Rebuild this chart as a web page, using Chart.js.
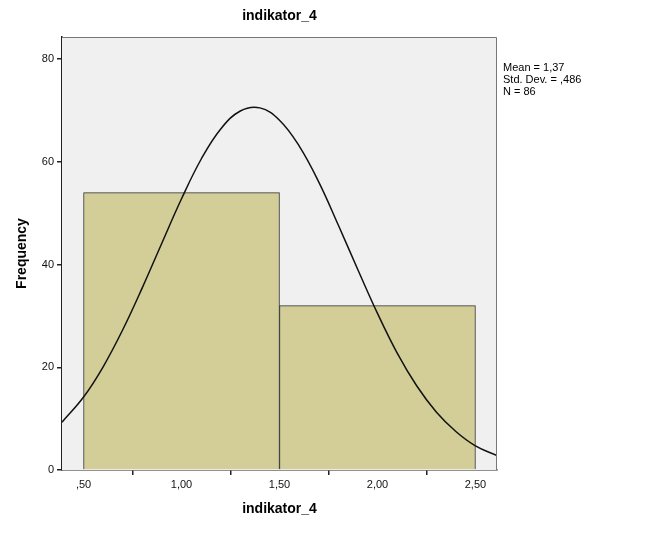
<!DOCTYPE html>
<html>
<head>
<meta charset="utf-8">
<script src="https://cdn.jsdelivr.net/npm/chart.js@4.4.1/dist/chart.umd.min.js"></script>
<style>
  body { margin: 0; background: #fff; }
</style>
</head>
<body>
<canvas id="hist" width="665" height="533"></canvas>
<script>
// histogram bins (centres) and counts
var binCenters = [1, 2];
var binCounts = [54, 32];

// normal curve
var curveX = [0.39, 0.5, 0.6, 0.7, 0.8, 0.9, 1.0, 1.1, 1.2, 1.3, 1.4, 1.5, 1.6, 1.7, 1.8, 1.9, 2.0, 2.1, 2.2, 2.3, 2.4, 2.5, 2.61];
var curveY = [9.3, 14.2, 20.1, 27.3, 35.5, 44.2, 52.8, 60.5, 66.4, 69.9, 70.5, 68.1, 63.1, 56.1, 47.7, 39.0, 30.5, 22.8, 16.4, 11.3, 7.5, 4.7, 2.8];

var xTickVals = [0.5, 1.0, 1.5, 2.0, 2.5];
var xTickLabels = [",50", "1,00", "1,50", "2,00", "2,50"];
var yTickVals = [0, 20, 40, 60, 80];

var statsLines = ["Mean = 1,37", "Std. Dev. = ,486", "N = 86"];

var FONT = "'Liberation Sans', Arial, sans-serif";

// grey plot background + frame, stats text on the right
const plotBox = {
  id: 'plotBox',
  beforeDatasetsDraw(chart) {
    const a = chart.chartArea, ctx = chart.ctx;
    ctx.save();
    ctx.fillStyle = '#f0f0f0';
    ctx.fillRect(a.left, a.top, a.right - a.left, a.bottom - a.top);
    ctx.restore();
  },
  afterDraw(chart) {
    const a = chart.chartArea, ctx = chart.ctx;
    ctx.save();
    ctx.strokeStyle = '#777';
    ctx.lineWidth = 1;
    ctx.beginPath();
    ctx.moveTo(a.left, a.top + 0.5);
    ctx.lineTo(a.right - 0.5, a.top + 0.5);
    ctx.lineTo(a.right - 0.5, a.bottom);
    ctx.stroke();
    ctx.fillStyle = '#000';
    ctx.font = '11px ' + FONT;
    ctx.textBaseline = 'middle';
    statsLines.forEach(function (t, i) {
      ctx.fillText(t, a.right + 6, 68 + i * 12);
    });
    ctx.restore();
  }
};

new Chart("hist", {
  type: "bar",
  data: {
    datasets: [{
      type: "line",
      data: curveX.map((x, i) => ({x: x, y: curveY[i]})),
      borderColor: "#111",
      borderWidth: 1.5,
      pointRadius: 0,
      tension: 0.4,
      fill: false,
      order: 0
    }, {
      type: "bar",
      data: binCenters.map((x, i) => ({x: x, y: binCounts[i]})),
      backgroundColor: "#d3ce98",
      borderColor: "#333",
      borderWidth: 1,
      barThickness: "flex",
      barPercentage: 1,
      categoryPercentage: 1,
      order: 1
    }]
  },
  options: {
    responsive: false,
    animation: false,
    layout: { padding: { left: 0, right: 168, top: 0, bottom: 0 } },
    plugins: {
      legend: { display: false },
      tooltip: { enabled: false },
      title: {
        display: true,
        text: "indikator_4",
        fullSize: false,
        color: "#000",
        font: { family: FONT, size: 14, weight: "bold" },
        padding: { top: 8, bottom: 12.2 }
      }
    },
    scales: {
      x: {
        type: "linear",
        min: 0.39,
        max: 2.61,
        offset: false,
        afterFit(s) { s.height = 63; },
        afterBuildTicks(s) { s.ticks = xTickVals.map(v => ({value: v})); },
        ticks: {
          autoSkip: false,
          maxRotation: 0,
          padding: 3,
          color: "#111",
          font: { family: FONT, size: 11 },
          callback: (v, i) => xTickLabels[i]
        },
        grid: { drawOnChartArea: false, tickLength: 5, color: "#222", lineWidth: 1.5 },
        border: { display: true, color: "#222", width: 1.5 },
        title: {
          display: true,
          text: "indikator_4",
          color: "#000",
          font: { family: FONT, size: 14, weight: "bold" },
          padding: { top: 0, bottom: 15 }
        }
      },
      y: {
        min: 0,
        max: 84.3,
        afterFit(s) { s.width = 62; },
        afterBuildTicks(s) { s.ticks = yTickVals.map(v => ({value: v})); },
        ticks: {
          padding: 3,
          color: "#111",
          font: { family: FONT, size: 11 }
        },
        grid: { drawOnChartArea: false, tickLength: 5, color: "#222", lineWidth: 1.5 },
        border: { display: true, color: "#222", width: 1.5 },
        title: {
          display: true,
          text: "Frequency",
          color: "#000",
          font: { family: FONT, size: 14, weight: "bold" },
          padding: { top: 14, bottom: 0 }
        }
      }
    }
  },
  plugins: [plotBox]
});
</script>
</body>
</html>
